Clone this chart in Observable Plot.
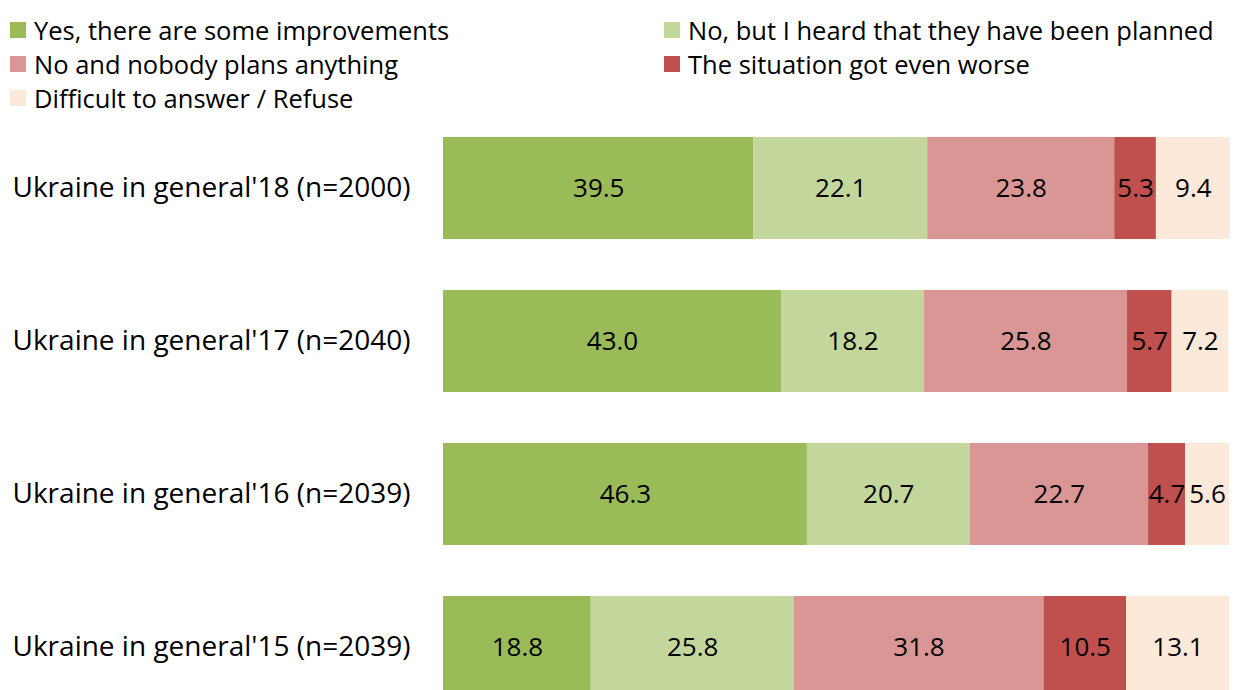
<!DOCTYPE html>
<html><head><meta charset="utf-8">
<script src="https://cdn.jsdelivr.net/npm/d3@7"></script>
<script src="https://cdn.jsdelivr.net/npm/@observablehq/plot@0.6"></script>
<style>
body{margin:0;background:#fff;font-family:"Open Sans",sans-serif;overflow:hidden}
#legend{position:relative;height:115px;width:1244px}
.item{position:absolute;display:flex;align-items:center;height:34px;font-size:25.5px;color:#000;white-space:nowrap}
.sw{width:16px;height:16px;margin-right:8px;flex:none}
</style></head><body>
<div id="legend"></div><div id="chart"></div>
<script>
const categories = ["Ukraine in general'18 (n=2000)", "Ukraine in general'17 (n=2040)", "Ukraine in general'16 (n=2039)", "Ukraine in general'15 (n=2039)"];
const series = ["Yes, there are some improvements", "No, but I heard that they have been planned", "No and nobody plans anything", "The situation got even worse", "Difficult to answer / Refuse"];
const colors = ["#9BBB59", "#C3D69B", "#D99694", "#C0504D", "#FDE9D9"];
const yesImprovements = [39.5, 43.0, 46.3, 18.8];
const heardPlanned = [22.1, 18.2, 20.7, 25.8];
const nobodyPlans = [23.8, 25.8, 22.7, 31.8];
const gotWorse = [5.3, 5.7, 4.7, 10.5];
const difficult = [9.4, 7.2, 5.6, 13.1];

const seriesValues = [yesImprovements, heardPlanned, nobodyPlans, gotWorse, difficult];
const rows = [];
categories.forEach((c, i) => {
  series.forEach((s, j) => rows.push({category: c, series: s, value: seriesValues[j][i]}));
});

// legend (HTML, above the SVG)
const legend = document.getElementById("legend");
const legendPos = [[10, 13], [664, 13], [10, 47], [664, 47], [10, 81]];
series.forEach((s, j) => {
  const d = document.createElement("div");
  d.className = "item";
  d.style.left = legendPos[j][0] + "px";
  d.style.top = legendPos[j][1] + "px";
  const sw = document.createElement("span");
  sw.className = "sw";
  sw.style.background = colors[j];
  const t = document.createElement("span");
  t.textContent = s;
  d.append(sw, t);
  legend.append(d);
});

const chart = Plot.plot({
  width: 1244,
  height: 590,
  marginLeft: 443,
  marginRight: 15,
  marginTop: 22,
  marginBottom: 6.4,
  style: {fontFamily: "'Open Sans', sans-serif", background: "#fff", overflow: "visible"},
  x: {domain: [0, 100], axis: null},
  y: {domain: categories, paddingInner: 0.334, paddingOuter: 0, align: 0, axis: null},
  color: {domain: series, range: colors},
  marks: [
    Plot.barX(rows, Plot.stackX({x: "value", y: "category", fill: "series", order: null, inset: 0})),
    Plot.text(rows, Plot.stackX({x: "value", y: "category", z: "series", order: null, text: d => d.value.toFixed(1), fontSize: 26, fill: "#000"})),
    Plot.text(categories, {y: d => d, frameAnchor: "left", dx: -431, textAnchor: "start", fontSize: 28, fill: "#000"})
  ]
});
document.getElementById("chart").append(chart);
</script>
</body></html>
